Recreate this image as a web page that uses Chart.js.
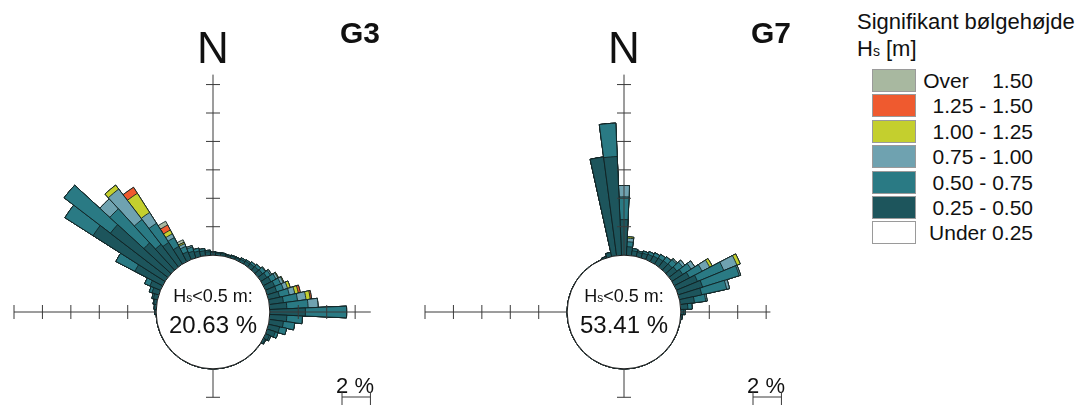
<!DOCTYPE html>
<html>
<head>
<meta charset="utf-8">
<script src="https://cdn.jsdelivr.net/npm/chart.js@4.4.1/dist/chart.umd.min.js"></script>
<style>
  html, body { margin: 0; padding: 0; background: #fff; overflow: hidden; }
  #page { position: relative; width: 1078px; height: 405px; overflow: hidden;
          font-family: "Liberation Sans", Arial, sans-serif; color: #111; }
  canvas { position: absolute; top: 0; }
  #roseG3 { left: 0; }
  #roseG7 { left: 420px; }
  .lg-title { position: absolute; left: 857px; font-size: 22px; line-height: 21px; white-space: nowrap; }
  .lg-title .sub { font-size: 14px; }
  .lg-box { position: absolute; left: 872px; width: 42px; height: 21px; border: 1px solid #9a9a9a; }
  .lg-text { position: absolute; left: 900px; width: 133px; text-align: right; font-size: 21px;
             line-height: 22px; white-space: pre; }
</style>
</head>
<body>
<div id="page">
  <canvas id="roseG3" width="420" height="624"></canvas>
  <canvas id="roseG7" width="430" height="624"></canvas>
  <div class="lg-title" style="top:11px">Signifikant bølgehøjde</div>
  <div class="lg-title" style="top:38px">H<span class="sub">s</span> [m]</div>
  <div id="legend"></div>
</div>
<script>
// wave direction bins (degrees, 5 degree sectors)
const directions = [
    0, 5, 10, 15, 20, 25, 30, 35, 40, 45, 50, 55,
    60, 65, 70, 75, 80, 85, 90, 95, 100, 105, 110, 115,
    120, 125, 130, 135, 140, 145, 150, 155, 160, 165, 170, 175,
    180, 185, 190, 195, 200, 205, 210, 215, 220, 225, 230, 235,
    240, 245, 250, 255, 260, 265, 270, 275, 280, 285, 290, 295,
    300, 305, 310, 315, 320, 325, 330, 335, 340, 345, 350, 355
];

const classLabels = ["0.25 - 0.50", "0.50 - 0.75", "0.75 - 1.00", "1.00 - 1.25", "1.25 - 1.50", "Over    1.50"];
const classColors = ["#1d555c", "#2a7a84", "#6fa2b0", "#c4cf2e", "#ef5a2f", "#a8b8a0"];

// G3, frequency (%) per direction and Hs class
const g3Hs025 = [
    0.2, 0.15, 0.15, 0.1, 0.15, 0.15, 0.2, 0.25, 0.3, 0.35, 0.4, 0.5,
    0.6, 0.7, 0.7, 0.8, 1.0, 1.2, 2.5, 1.2, 1.0, 0.8, 0.6, 0.3,
    0.15, 0, 0, 0, 0, 0, 0, 0, 0, 0, 0, 0,
    0, 0, 0, 0, 0, 0, 0, 0, 0, 0, 0, 0,
    0, 0, 0, 0, 0, 0, 0.1, 0.15, 0.2, 0.3, 0.5, 0.8,
    2.2, 6.0, 5.1, 2.6, 2.0, 1.8, 1.2, 0.6, 0.5, 0.4, 0.35, 0.25
];
const g3Hs050 = [
    0.05, 0.05, 0.05, 0.05, 0.05, 0.05, 0.1, 0.1, 0.15, 0.2, 0.25, 0.3,
    0.4, 0.45, 0.5, 0.7, 1.0, 1.5, 2.9, 1.1, 0.8, 0.5, 0.2, 0.1,
    0.05, 0, 0, 0, 0, 0, 0, 0, 0, 0, 0, 0,
    0, 0, 0, 0, 0, 0, 0, 0, 0, 0, 0, 0,
    0, 0, 0, 0, 0, 0, 0, 0, 0.05, 0.1, 0.2, 0.4,
    1.5, 2.35, 4.1, 3.25, 2.2, 1.6, 0.7, 0.4, 0.3, 0.2, 0.15, 0.1
];
const g3Hs075 = [
    0, 0, 0, 0, 0, 0, 0, 0, 0, 0, 0.05, 0.1,
    0.15, 0.2, 0.3, 0.4, 0.6, 0.7, 0, 0, 0, 0, 0, 0,
    0, 0, 0, 0, 0, 0, 0, 0, 0, 0, 0, 0,
    0, 0, 0, 0, 0, 0, 0, 0, 0, 0, 0, 0,
    0, 0, 0, 0, 0, 0, 0, 0, 0, 0, 0, 0,
    0, 0, 0, 0.95, 2.7, 0.9, 0.3, 0.2, 0.1, 0, 0, 0
];
const g3Hs100 = [
    0, 0, 0, 0, 0, 0, 0, 0, 0, 0, 0, 0,
    0.05, 0.05, 0.2, 0.25, 0.3, 0, 0, 0, 0, 0, 0, 0,
    0, 0, 0, 0, 0, 0, 0, 0, 0, 0, 0, 0,
    0, 0, 0, 0, 0, 0, 0, 0, 0, 0, 0, 0,
    0, 0, 0, 0, 0, 0, 0, 0, 0, 0, 0, 0,
    0, 0, 0, 0, 0.35, 1.6, 0.3, 0.1, 0, 0, 0, 0
];
const g3Hs125 = [
    0, 0, 0, 0, 0, 0, 0, 0, 0, 0, 0, 0,
    0, 0, 0, 0.15, 0.1, 0, 0, 0, 0, 0, 0, 0,
    0, 0, 0, 0, 0, 0, 0, 0, 0, 0, 0, 0,
    0, 0, 0, 0, 0, 0, 0, 0, 0, 0, 0, 0,
    0, 0, 0, 0, 0, 0, 0, 0, 0, 0, 0, 0,
    0, 0, 0, 0, 0, 0.5, 0.4, 0, 0, 0, 0, 0
];
const g3Hs150 = [
    0, 0, 0, 0, 0, 0, 0, 0, 0, 0, 0, 0,
    0, 0, 0, 0, 0, 0, 0, 0, 0, 0, 0, 0,
    0, 0, 0, 0, 0, 0, 0, 0, 0, 0, 0, 0,
    0, 0, 0, 0, 0, 0, 0, 0, 0, 0, 0, 0,
    0, 0, 0, 0, 0, 0, 0, 0, 0, 0, 0, 0,
    0, 0, 0, 0, 0, 0, 0.3, 0.2, 0, 0, 0, 0
];

// G7
const g7Hs025 = [
    2.5, 0.6, 0.35, 0.3, 0.35, 0.4, 0.45, 0.5, 0.55, 0.6, 0.7, 0.9,
    1.2, 1.6, 1.8, 1.6, 1.0, 0.5, 0.2, 0.1, 0, 0, 0, 0,
    0, 0, 0, 0, 0, 0, 0, 0, 0, 0, 0, 0,
    0, 0, 0, 0, 0, 0, 0, 0, 0, 0, 0, 0,
    0, 0, 0, 0, 0, 0, 0, 0, 0, 0, 0, 0,
    0, 0, 0, 0, 0, 0, 0, 0, 0.1, 0.3, 7.0, 6.95
];
const g7Hs050 = [
    1.6, 0.35, 0.15, 0.1, 0.15, 0.2, 0.25, 0.3, 0.35, 0.4, 0.5, 0.7,
    1.0, 2.0, 2.7, 1.8, 0.8, 0.3, 0.1, 0, 0, 0, 0, 0,
    0, 0, 0, 0, 0, 0, 0, 0, 0, 0, 0, 0,
    0, 0, 0, 0, 0, 0, 0, 0, 0, 0, 0, 0,
    0, 0, 0, 0, 0, 0, 0, 0, 0, 0, 0, 0,
    0, 0, 0, 0, 0, 0, 0, 0, 0, 0, 0, 2.35
];
const g7Hs075 = [
    0.8, 0.25, 0, 0, 0, 0, 0, 0, 0, 0.1, 0.2, 0.3,
    0.6, 1.0, 0.1, 0.2, 0.1, 0, 0, 0, 0, 0, 0, 0,
    0, 0, 0, 0, 0, 0, 0, 0, 0, 0, 0, 0,
    0, 0, 0, 0, 0, 0, 0, 0, 0, 0, 0, 0,
    0, 0, 0, 0, 0, 0, 0, 0, 0, 0, 0, 0,
    0, 0, 0, 0, 0, 0, 0, 0, 0, 0, 0, 0
];
const g7Hs100 = [
    0, 0.1, 0, 0, 0, 0, 0, 0, 0, 0, 0, 0,
    0.2, 0.25, 0, 0, 0, 0, 0, 0, 0, 0, 0, 0,
    0, 0, 0, 0, 0, 0, 0, 0, 0, 0, 0, 0,
    0, 0, 0, 0, 0, 0, 0, 0, 0, 0, 0, 0,
    0, 0, 0, 0, 0, 0, 0, 0, 0, 0, 0, 0,
    0, 0, 0, 0, 0, 0, 0, 0, 0, 0, 0, 0
];
const g7Hs125 = new Array(72).fill(0);
const g7Hs150 = new Array(72).fill(0);

const FONT = '"Liberation Sans", Arial, sans-serif';

// legend
const legendRows = [
    { label: "Over    1.50", color: "#a8b8a0" },
    { label: "1.25 - 1.50", color: "#ef5a2f" },
    { label: "1.00 - 1.25", color: "#c4cf2e" },
    { label: "0.75 - 1.00", color: "#6fa2b0" },
    { label: "0.50 - 0.75", color: "#2a7a84" },
    { label: "0.25 - 0.50", color: "#1d555c" },
    { label: "Under 0.25", color: "#ffffff" }
];
const legendEl = document.getElementById("legend");
legendRows.forEach((row, i) => {
    const top = 69 + i * 25.4;
    const box = document.createElement("div");
    box.className = "lg-box";
    box.style.top = top + "px";
    box.style.background = row.color;
    legendEl.appendChild(box);
    const txt = document.createElement("div");
    txt.className = "lg-text";
    txt.style.top = (top + 1) + "px";
    txt.textContent = row.label;
    legendEl.appendChild(txt);
});

// running totals, so the lowest class is drawn last on top
function stackSeries(seriesList) {
    let run = directions.map(() => 0);
    return seriesList.map(s => {
        run = run.map((v, i) => v + s[i]);
        return run.slice();
    });
}

const roseOverlay = {
    id: "roseOverlay",
    afterDatasetsDraw(chart, args, opts) {
        const r = chart.scales.r;
        const ctx = chart.ctx;
        const cx = r.xCenter;
        const cy = r.yCenter;
        const r0 = r.getDistanceFromCenterForValue(0);
        const px = v => r.getDistanceFromCenterForValue(v);

        ctx.save();

        // calm circle
        ctx.beginPath();
        ctx.arc(cx, cy, r0, 0, Math.PI * 2);
        ctx.fillStyle = "#fff";
        ctx.fill();
        ctx.lineWidth = 1;
        ctx.strokeStyle = "#1a1a1a";
        ctx.stroke();

        // axis arms with tick marks every 2 %
        ctx.strokeStyle = "#3a3a3a";
        ctx.lineWidth = 1;
        const arms = [
            { ux: 0, uy: -1, ext: opts.arms.up },
            { ux: 0, uy: 1, ext: opts.arms.down },
            { ux: -1, uy: 0, ext: opts.arms.left },
            { ux: 1, uy: 0, ext: opts.arms.right }
        ];
        arms.forEach(a => {
            ctx.beginPath();
            ctx.moveTo(cx + a.ux * r0, cy + a.uy * r0);
            ctx.lineTo(cx + a.ux * px(a.ext), cy + a.uy * px(a.ext));
            for (let v = 2; v <= a.ext + 0.01; v += 2) {
                const d = px(v);
                const x = cx + a.ux * d;
                const y = cy + a.uy * d;
                ctx.moveTo(x - a.uy * 7, y - a.ux * 7);
                ctx.lineTo(x + a.uy * 7, y + a.ux * 7);
            }
            ctx.stroke();
        });

        // text inside circle
        ctx.fillStyle = "#111";
        ctx.textBaseline = "alphabetic";
        ctx.textAlign = "left";
        const big = "18px " + FONT;
        const small = "12px " + FONT;
        ctx.font = big;
        const wH = ctx.measureText("H").width;
        const wRest = ctx.measureText("<0.5 m:").width;
        ctx.font = small;
        const wS = ctx.measureText("s").width;
        let x = cx - (wH + wS + wRest) / 2;
        ctx.font = big;
        ctx.fillText("H", x, cy - 10);
        ctx.font = small;
        ctx.fillText("s", x + wH, cy - 10);
        ctx.font = big;
        ctx.fillText("<0.5 m:", x + wH + wS, cy - 10);

        ctx.textAlign = "center";
        ctx.font = "24px " + FONT;
        ctx.fillText(opts.calm, cx, cy + 21);

        // north label and station title
        ctx.font = "44px " + FONT;
        ctx.fillText("N", cx, cy - 249);
        ctx.font = "bold 30px " + FONT;
        ctx.fillText(opts.title, cx + 147, cy - 269);

        // 2 % scale bar
        const sx = cx + 129;
        const len = px(2) - px(0);
        ctx.font = "22px " + FONT;
        ctx.fillText("2 %", sx + 13, cy + 81);
        ctx.beginPath();
        ctx.moveTo(sx, cy + 85);
        ctx.lineTo(sx + len, cy + 85);
        ctx.moveTo(sx, cy + 80);
        ctx.lineTo(sx, cy + 93);
        ctx.moveTo(sx + len, cy + 80);
        ctx.lineTo(sx + len, cy + 93);
        ctx.stroke();

        ctx.restore();
    }
};

function buildRose(canvasId, seriesList, padding, overlay) {
    const stacked = stackSeries(seriesList);
    const datasets = stacked.map((data, k) => ({
        label: classLabels[k],
        data,
        backgroundColor: classColors[k],
        borderColor: "#112224",
        borderWidth: 0.9
    }));
    return new Chart(document.getElementById(canvasId), {
        type: "polarArea",
        data: { labels: directions.map(d => d + "°"), datasets },
        plugins: [roseOverlay],
        options: {
            responsive: false,
            animation: false,
            layout: { padding },
            plugins: {
                legend: { display: false },
                tooltip: { enabled: false },
                roseOverlay: overlay
            },
            scales: {
                r: {
                    display: false,
                    min: -4,
                    max: 10,
                    startAngle: -2.5
                }
            }
        }
    });
}

buildRose("roseG3",
    [g3Hs025, g3Hs050, g3Hs075, g3Hs100, g3Hs125, g3Hs150],
    { left: 14, right: 8, top: 113, bottom: 113 },
    { title: "G3", calm: "20.63 %", arms: { up: 12.7, down: 2, left: 10, right: 7.1 } });

buildRose("roseG7",
    [g7Hs025, g7Hs050, g7Hs075, g7Hs100, g7Hs125, g7Hs150],
    { left: 5, right: 27, top: 113, bottom: 113 },
    { title: "G7", calm: "53.41 %", arms: { up: 12.7, down: 2, left: 10, right: 6.3 } });
</script>
</body>
</html>
